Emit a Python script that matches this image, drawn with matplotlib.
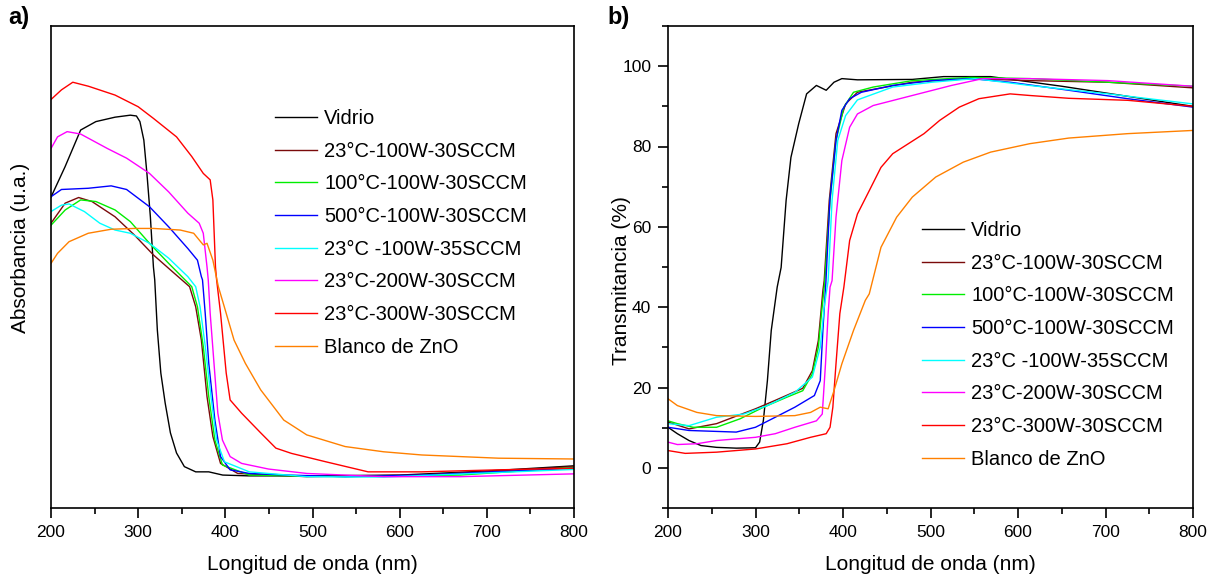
import matplotlib
matplotlib.use("Agg")
import matplotlib.pyplot as plt
from matplotlib.ticker import MultipleLocator

plt.rcParams["font.family"] = ["Liberation Sans", "DejaVu Sans"]

# ---- series names / colours ----
labels = ["Vidrio", "23°C-100W-30SCCM", "100°C-100W-30SCCM", "500°C-100W-30SCCM",
          "23°C -100W-35SCCM", "23°C-200W-30SCCM", "23°C-300W-30SCCM", "Blanco de ZnO"]
colors = ["#000000", "#7a0a0a", "#00ee00", "#0000ff", "#00ffff", "#ff00ff", "#ff0000", "#ff8000"]

# ---- a) absorbance (arbitrary units) ----
wl_a_vidrio = [200, 216, 234, 251.5, 273.5, 291, 298, 302, 306.5, 310, 314, 317.5, 319, 322, 326, 331,
               337, 344, 353, 366, 381, 397, 427, 500, 600, 700, 800]
abs_vidrio = [0.774, 0.849, 0.941, 0.962, 0.973, 0.978, 0.976, 0.962, 0.916, 0.834, 0.725, 0.600, 0.568,
              0.443, 0.336, 0.261, 0.187, 0.137, 0.103, 0.090, 0.090, 0.082, 0.080, 0.080, 0.082, 0.092, 0.105]

wl_a_100w = [200, 216.3, 231.7, 247, 273.5, 295.5, 317.5, 339.5, 359, 366, 372.5, 379, 385.7, 394.5,
             414.2, 493.4, 625.4, 800]
abs_100w = [0.709, 0.759, 0.773, 0.763, 0.725, 0.680, 0.630, 0.588, 0.551, 0.501, 0.418, 0.277, 0.178,
            0.111, 0.086, 0.078, 0.082, 0.103]

wl_a_100c = [200, 216.3, 234, 251.5, 273.5, 291, 313, 335, 361.5, 368, 374.7, 381, 388, 396.7, 427.5,
             537.4, 669.4, 800]
abs_100c = [0.704, 0.742, 0.767, 0.763, 0.742, 0.713, 0.659, 0.609, 0.551, 0.501, 0.402, 0.277, 0.169,
            0.107, 0.082, 0.078, 0.082, 0.101]

wl_a_500c = [200, 212, 242.7, 269, 286.7, 313, 335, 357, 368, 372.5, 373.8, 376.9, 381, 388, 394.5,
             405.5, 427.5, 471.5, 537.4, 625.4, 800]
abs_500c = [0.775, 0.793, 0.796, 0.802, 0.793, 0.750, 0.700, 0.646, 0.617, 0.576, 0.568, 0.485, 0.360,
            0.219, 0.128, 0.095, 0.086, 0.082, 0.078, 0.082, 0.099]

wl_a_35sccm = [200, 212, 220.7, 238.3, 256, 273.5, 291, 313, 335, 357, 366, 371, 377, 383.5, 390, 399,
               427.5, 493.4, 581.4, 800]
abs_35sccm = [0.738, 0.754, 0.757, 0.738, 0.709, 0.692, 0.684, 0.659, 0.622, 0.576, 0.551, 0.501, 0.402,
              0.277, 0.169, 0.115, 0.090, 0.078, 0.077, 0.096]

wl_a_200w = [200, 207.5, 218.5, 234, 264.7, 286.7, 313, 335, 357, 370, 374.7, 379, 380.4, 382.6, 387,
             391.4, 396.7, 405.5, 418.7, 449.5, 493.5, 581.4, 669.4, 800]
abs_200w = [0.895, 0.924, 0.937, 0.931, 0.895, 0.871, 0.833, 0.787, 0.734, 0.709, 0.684, 0.600, 0.568,
            0.485, 0.360, 0.236, 0.169, 0.128, 0.111, 0.097, 0.086, 0.078, 0.078, 0.085]

wl_a_300w = [200, 212, 225, 243, 273.5, 300, 317.5, 344, 361.5, 374.7, 382.6, 385.7, 388.7, 390, 394.5,
             401, 405.5, 418.7, 440.6, 458, 475.8, 515.4, 563.8, 625, 713, 800]
abs_300w = [1.017, 1.041, 1.060, 1.050, 1.028, 0.999, 0.970, 0.924, 0.875, 0.833, 0.817, 0.767, 0.600,
            0.568, 0.485, 0.336, 0.269, 0.236, 0.187, 0.149, 0.136, 0.115, 0.090, 0.090, 0.095, 0.099]

wl_a_zno = [200, 207.5, 220.7, 242.7, 269, 295.5, 317.5, 348.3, 363.7, 374.7, 379, 385.7, 392, 398.8,
            410, 423, 440.6, 467, 493.4, 537.4, 581.4, 625.4, 713.4, 800]
abs_zno = [0.609, 0.634, 0.663, 0.684, 0.694, 0.696, 0.696, 0.692, 0.684, 0.655, 0.659, 0.617, 0.551,
           0.501, 0.418, 0.360, 0.294, 0.219, 0.182, 0.153, 0.140, 0.132, 0.124, 0.122]

# ---- b) transmittance (%) ----
wl_b_vidrio = [200, 210.7, 224, 237.6, 255.5, 278, 300, 304.7, 309, 313.6, 318, 324.8, 329.3, 335, 340.5,
               349.4, 358.4, 369.6, 380.8, 389.7, 398.7, 416.5, 479.2, 515, 568.7, 650, 725, 800]
tr_vidrio = [10.1, 8.5, 6.8, 5.55, 5.1, 4.9, 5.0, 6.4, 11.8, 21.7, 34.2, 45.0, 49.9, 66.6, 77.3, 85.7,
             93.1, 95.2, 94.0, 96.0, 96.9, 96.6, 96.7, 97.4, 97.4, 95.0, 92.5, 90.0]

wl_b_100w = [200, 224, 255.5, 300, 322.6, 354, 365, 371.8, 377, 378.5, 384.3, 392, 403, 416.5, 479,
             546.3, 613.4, 703, 800]
tr_100w = [11.4, 9.7, 11.0, 14.7, 16.8, 19.8, 24.2, 31.7, 44.1, 46.6, 66.6, 83.2, 90.6, 93.5, 96.0,
           96.9, 96.4, 96.0, 94.6]

wl_b_100c = [200, 210.7, 228.6, 255.5, 282.3, 309.2, 336, 354, 365, 371.8, 375.4, 379, 385.2, 392, 401,
             412, 434.5, 479.2, 546.3, 613.4, 702.9, 800]
tr_100c = [11.7, 11.0, 10.1, 10.1, 12.2, 15.1, 17.6, 19.2, 23.4, 30, 38.4, 46, 66.6, 81.5, 89.8, 93.5,
           94.8, 96.4, 97.2, 96.9, 96.0, 95.0]

wl_b_500c = [200, 224, 278, 300, 322.6, 345, 367.3, 374, 377, 380.4, 385, 392, 398.7, 407.6, 421, 456.8,
             501.5, 546.3, 591, 658, 725.3, 800]
tr_500c = [10.1, 9.3, 8.9, 10.1, 12.6, 15.1, 18.0, 21.7, 34.2, 46, 66.6, 81.5, 89.0, 91.9, 93.5, 95.2,
           96.4, 96.9, 96.0, 94.0, 91.9, 89.8]

wl_b_35sccm = [200, 224, 255.5, 286.8, 313.6, 345, 365, 374, 378.5, 383, 387.5, 394, 403, 416.5, 456.8,
               501.5, 550.8, 613.4, 702.9, 800]
tr_35sccm = [11.0, 10.5, 12.6, 13.4, 15.5, 18.8, 22.6, 30, 40, 46.6, 66.6, 81.5, 87.7, 91.6, 94.8, 96.0,
             96.9, 95.2, 93.1, 90.6]

wl_b_200w = [200, 210.7, 233, 255.5, 300, 322.6, 345, 369.6, 376.3, 380, 383, 385.2, 387.5, 392, 398.7,
             407.6, 416.5, 434.5, 479.2, 524, 559.7, 613.4, 703, 800]
tr_200w = [6.4, 5.8, 6.0, 6.8, 7.6, 8.5, 10.1, 11.7, 13.4, 25.9, 38.4, 45, 46.6, 62.4, 76.5, 84.8, 88.1,
           90.2, 92.7, 95.2, 96.9, 96.9, 96.4, 95.0]

wl_b_300w = [200, 219.7, 255.5, 300, 336, 362.9, 380.8, 385.2, 388.4, 392, 396.4, 401, 407.6, 416.5, 430,
             443.4, 456.8, 474.7, 492.6, 510.5, 532.9, 555.3, 591, 613.4, 658, 725.3, 800]
tr_300w = [4.3, 3.6, 3.9, 4.7, 6.0, 7.6, 8.5, 10.1, 15.1, 25.9, 38.4, 45, 56.6, 63.2, 69.0, 74.8, 78.2,
           80.7, 83.2, 86.5, 89.8, 91.9, 93.1, 92.7, 92.0, 91.5, 90.0]

wl_b_zno = [200, 210.7, 233, 255.5, 300, 345, 363, 374, 383, 389.7, 398.7, 412, 425.5, 430, 443.4, 461.3,
            479.2, 506, 537.4, 568.7, 613.4, 658, 725.3, 800]
tr_zno = [17.2, 15.5, 13.8, 13.0, 12.8, 13.0, 13.8, 15.1, 14.7, 19.2, 25.9, 34.2, 41.7, 43.3, 54.9, 62.4,
          67.4, 72.4, 76.1, 78.6, 80.7, 82.1, 83.2, 84.0]

series_a = [(wl_a_vidrio, abs_vidrio), (wl_a_100w, abs_100w), (wl_a_100c, abs_100c),
            (wl_a_500c, abs_500c), (wl_a_35sccm, abs_35sccm), (wl_a_200w, abs_200w),
            (wl_a_300w, abs_300w), (wl_a_zno, abs_zno)]
series_b = [(wl_b_vidrio, tr_vidrio), (wl_b_100w, tr_100w), (wl_b_100c, tr_100c),
            (wl_b_500c, tr_500c), (wl_b_35sccm, tr_35sccm), (wl_b_200w, tr_200w),
            (wl_b_300w, tr_300w), (wl_b_zno, tr_zno)]

W, H = 1212, 583
fig = plt.figure(figsize=(W / 100, H / 100), dpi=100)
ax_a = fig.add_axes([51 / W, 1 - 508 / H, 523 / W, 482 / H])
ax_b = fig.add_axes([668 / W, 1 - 508 / H, 525 / W, 482 / H])


def style_axis(ax):
    for sp in ax.spines.values():
        sp.set_linewidth(1.2)
    ax.set_xlim(200, 800)
    ax.xaxis.set_major_locator(MultipleLocator(100))
    ax.xaxis.set_minor_locator(MultipleLocator(50))
    ax.tick_params(which="major", direction="out", length=7, width=1.2, labelsize=12.5, pad=5)
    ax.tick_params(which="minor", direction="out", length=4.3, width=1.2)
    ax.tick_params(top=False, right=False, which="both")
    ax.set_xlabel("Longitud de onda (nm)", fontsize=15)
    ax.xaxis.set_label_coords(0.5, -0.098)


for ax, series in ((ax_a, series_a), (ax_b, series_b)):
    for (x, y), lab, c in zip(series, labels, colors):
        ax.plot(x, y, color=c, lw=1.0, label=lab)
    style_axis(ax)

# a) absorbance, no y ticks
ax_a.set_ylim(0, 1.2)
ax_a.set_yticks([])
ax_a.set_ylabel("Absorbancia (u.a.)", fontsize=15)
ax_a.yaxis.set_label_coords((30 - 51) / 523, (508 - 248) / 482)

# b) transmittance
ax_b.set_ylim(-10, 110)
ax_b.yaxis.set_major_locator(MultipleLocator(20))
ax_b.yaxis.set_minor_locator(MultipleLocator(10))
ax_b.set_yticks([0, 20, 40, 60, 80, 100])
ax_b.set_ylabel("Transmitancia (%)", fontsize=15)
ax_b.yaxis.set_label_coords((631 - 668) / 525, (508 - 281) / 482)

leg_kw = dict(loc="upper left", frameon=False, fontsize=14.5, handlelength=2.1,
              handletextpad=0.35, labelspacing=0.68, borderpad=0, borderaxespad=0)
ax_a.legend(bbox_to_anchor=(275 / W, 1 - 109 / H), bbox_transform=fig.transFigure, **leg_kw)
ax_b.legend(bbox_to_anchor=(922 / W, 1 - 221 / H), bbox_transform=fig.transFigure, **leg_kw)

fig.text(8 / W, 1 - 6 / H, "a)", fontsize=17, fontweight="bold", va="top", ha="left")
fig.text(607 / W, 1 - 6 / H, "b)", fontsize=17, fontweight="bold", va="top", ha="left")

fig.savefig("out.png", dpi=100)
